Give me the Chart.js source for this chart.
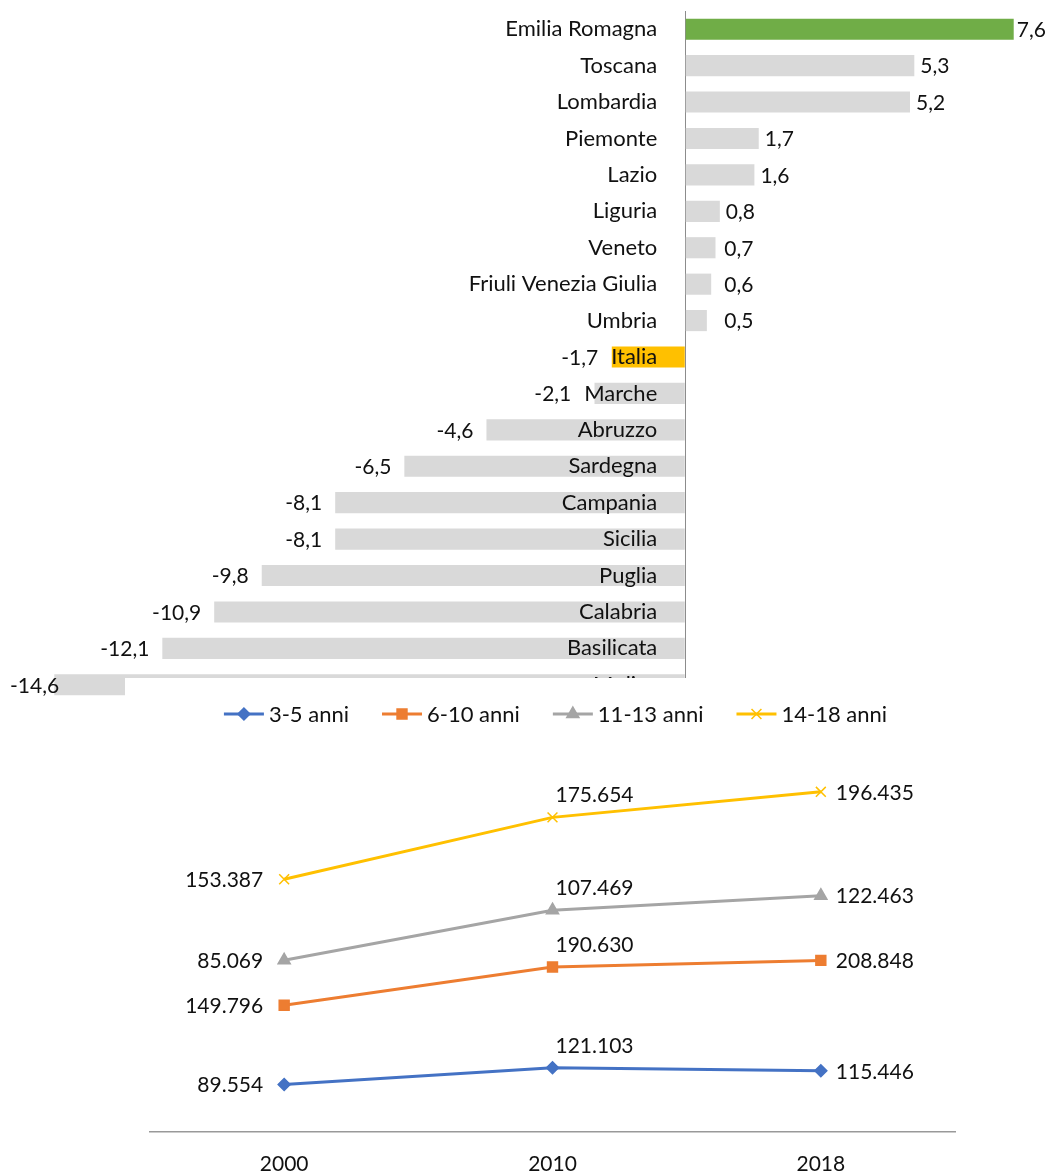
<!DOCTYPE html>
<html>
<head>
<meta charset="utf-8">
<script src="https://cdn.jsdelivr.net/npm/chart.js@4.4.1/dist/chart.umd.min.js"></script>
<style>
  html, body { margin: 0; padding: 0; background: #fff; }
  #wrap { position: relative; width: 1048px; height: 1173px; overflow: hidden; }
  #barChart { position: absolute; left: 0; top: 0; }
  #lineChart { position: absolute; left: 125px; top: 678px; background: #fff; }
</style>
</head>
<body>
<div id="wrap">
  <canvas id="barChart" width="1048" height="720"></canvas>
  <canvas id="lineChart" width="860" height="519"></canvas>
</div>
<script>
// Bar chart data: variation by region
const regions = ["Emilia Romagna", "Toscana", "Lombardia", "Piemonte", "Lazio", "Liguria", "Veneto",
    "Friuli Venezia Giulia", "Umbria", "Italia", "Marche", "Abruzzo", "Sardegna", "Campania",
    "Sicilia", "Puglia", "Calabria", "Basilicata", "Molise"];
const variation = [7.6, 5.3, 5.2, 1.7, 1.6, 0.8, 0.7, 0.6, 0.5, -1.7, -2.1, -4.6, -6.5, -8.1, -8.1, -9.8, -10.9, -12.1, -14.6];

// Line chart data: students by age group
const years = ["2000", "2010", "2018"];
const age3to5 = [89554, 121103, 115446];
const age6to10 = [149796, 190630, 208848];
const age11to13 = [85069, 107469, 122463];
const age14to18 = [153387, 175654, 196435];

const FONT = 'Lato, "Open Sans", sans-serif';
const TEXT_FONT = '22px ' + FONT;   // names, legend
const NUM_FONT = '21px ' + FONT;    // values
const TEXT = '#111';

const fmtDec = v => v.toFixed(1).replace('.', ',');
const fmtInt = v => String(v).replace(/\B(?=(\d{3})+(?!\d))/g, '.');

const barColors = regions.map(r => r === 'Emilia Romagna' ? '#70AD47' : (r === 'Italia' ? '#FFC000' : '#D9D9D9'));

// category names and values drawn on top of the bars
const barLabels = {
    id: 'barLabels',
    afterDatasetsDraw(chart) {
        const {ctx, scales: {x}, width} = chart;
        const x0 = x.getPixelForValue(0);
        const nameRight = x0 - 28;
        ctx.save();
        ctx.fillStyle = TEXT;
        ctx.textBaseline = 'middle';
        chart.getDatasetMeta(0).data.forEach((bar, i) => {
            const v = variation[i];
            ctx.font = TEXT_FONT;
            ctx.textAlign = 'right';
            ctx.fillText(regions[i], nameRight, bar.y);
            const nameLeft = nameRight - ctx.measureText(regions[i]).width;
            ctx.font = NUM_FONT;
            const txt = fmtDec(v);
            const w = ctx.measureText(txt).width;
            if (v >= 0) {
                // small values line up a bit right of the axis, keep inside the canvas
                let left = Math.max(bar.x + 6, x0 + 39);
                if (left + w > width - 2) left = width - 2 - w;
                ctx.textAlign = 'left';
                ctx.fillText(txt, left, bar.y + 1);
            } else {
                // keep clear of the name and inside the canvas
                let right = Math.min(bar.x, nameLeft) - 13;
                if (right - w < 10) right = 10 + w;
                ctx.textAlign = 'right';
                ctx.fillText(txt, right, bar.y + 1);
            }
        });
        ctx.restore();
    }
};

new Chart(document.getElementById('barChart'), {
    type: 'bar',
    data: {
        labels: regions,
        datasets: [{
            data: variation,
            backgroundColor: barColors,
            barPercentage: 0.58,
            categoryPercentage: 1
        }]
    },
    options: {
        indexAxis: 'y',
        responsive: false,
        animation: false,
        layout: { padding: { left: 37, right: 17, top: 11, bottom: 17 } },
        plugins: { legend: { display: false }, tooltip: { enabled: false } },
        scales: {
            x: {
                min: -15,
                max: 8,
                ticks: { display: false, stepSize: 5 },
                grid: {
                    drawTicks: false,
                    lineWidth: 1,
                    color: c => (c.tick && c.tick.value === 0) ? '#8c8c8c' : 'rgba(0,0,0,0)'
                },
                border: { display: false }
            },
            y: { display: false }
        }
    },
    plugins: [barLabels]
});

// value labels around the line points
const lineLabels = {
    id: 'lineLabels',
    afterDatasetsDraw(chart) {
        const {ctx} = chart;
        ctx.save();
        ctx.font = NUM_FONT;
        ctx.fillStyle = TEXT;
        ctx.textBaseline = 'middle';
        chart.data.datasets.forEach((ds, d) => {
            chart.getDatasetMeta(d).data.forEach((pt, i) => {
                const txt = fmtInt(ds.data[i]);
                if (i === 0) {
                    ctx.textAlign = 'right';
                    ctx.fillText(txt, pt.x - 21, pt.y + 1);
                } else if (i === 1) {
                    ctx.textAlign = 'left';
                    ctx.fillText(txt, pt.x + 3, pt.y - 22);
                } else {
                    ctx.textAlign = 'left';
                    ctx.fillText(txt, pt.x + 15, pt.y + 1);
                }
            });
        });
        ctx.restore();
    }
};

// legend with a line segment and marker, like the original
const lineLegend = {
    id: 'lineLegend',
    afterDraw(chart) {
        const {ctx, chartArea} = chart;
        ctx.save();
        ctx.font = TEXT_FONT;
        const items = chart.data.datasets.map(ds => ({ ds, w: 45 + ctx.measureText(ds.label).width }));
        const gap = 33;
        const total = items.reduce((s, it) => s + it.w, 0) + gap * (items.length - 1);
        let x = (chartArea.left + chartArea.right) / 2 - total / 2 + 3;
        const y = 36;
        items.forEach(({ds, w}) => {
            ctx.strokeStyle = ds.borderColor;
            ctx.fillStyle = ds.borderColor;
            ctx.lineWidth = 3;
            ctx.beginPath();
            ctx.moveTo(x, y);
            ctx.lineTo(x + 40, y);
            ctx.stroke();
            ctx.lineWidth = 1.5;
            Chart.helpers.drawPoint(ctx, { pointStyle: ds.pointStyle, radius: ds.pointRadius, borderWidth: 1.5, rotation: 0 }, x + 20, y);
            ctx.fillStyle = TEXT;
            ctx.textAlign = 'left';
            ctx.textBaseline = 'middle';
            ctx.fillText(ds.label, x + 45, y + 1);
            x += w + gap;
        });
        ctx.restore();
    }
};

function series(label, data, color, pointStyle, radius) {
    return {
        label, data,
        borderColor: color,
        backgroundColor: color,
        pointBackgroundColor: color,
        pointBorderColor: color,
        borderWidth: 3,
        pointStyle,
        pointRadius: radius,
        pointBorderWidth: 1.5,
        fill: false,
        tension: 0
    };
}

new Chart(document.getElementById('lineChart'), {
    type: 'line',
    data: {
        labels: years,
        datasets: [
            series('3-5 anni', age3to5, '#4472C4', 'rectRot', 6),
            series('6-10 anni', age6to10, '#ED7D31', 'rect', 7),
            series('11-13 anni', age11to13, '#A5A5A5', 'triangle', 7),
            series('14-18 anni', age14to18, '#FFC000', 'crossRot', 7)
        ]
    },
    options: {
        responsive: false,
        animation: false,
        layout: { padding: { left: 25, right: 30, top: 60, bottom: 0 } },
        plugins: { legend: { display: false }, tooltip: { enabled: false } },
        scales: {
            x: {
                offset: true,
                grid: { display: false, drawTicks: false },
                border: { color: '#999', width: 1.5 },
                ticks: { padding: 20, color: TEXT, font: { family: FONT, size: 21 } }
            },
            y: { display: false, stacked: true, min: 0, max: 745000 }
        }
    },
    plugins: [lineLabels, lineLegend]
});
</script>
</body>
</html>
